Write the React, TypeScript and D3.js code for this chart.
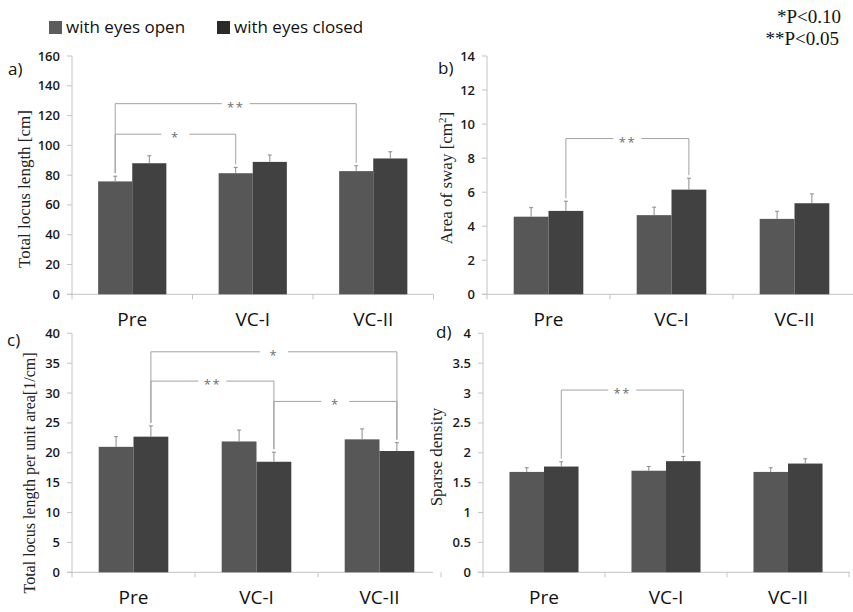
import * as d3 from "d3"

const categories = ["Pre", "VC-I", "VC-II"]
const series = ["with eyes open", "with eyes closed"]

// a) total locus length [cm]
const lengthOpen = [75.8, 81.3, 82.7]
const lengthClosed = [88, 88.9, 91.2]
const lengthOpenErr = [3.5, 3.9, 3.6]
const lengthClosedErr = [5, 4.6, 4.5]

// b) area of sway [cm2]
const swayOpen = [4.56, 4.65, 4.43]
const swayClosed = [4.9, 6.15, 5.35]
const swayOpenErr = [0.53, 0.47, 0.45]
const swayClosedErr = [0.57, 0.67, 0.55]

// c) total locus length per unit area [1/cm]
const perAreaOpen = [21, 21.9, 22.25]
const perAreaClosed = [22.7, 18.5, 20.3]
const perAreaOpenErr = [1.7, 1.9, 1.75]
const perAreaClosedErr = [1.8, 1.6, 1.4]

// d) sparse density
const densityOpen = [1.68, 1.7, 1.68]
const densityClosed = [1.77, 1.86, 1.82]
const densityOpenErr = [0.07, 0.07, 0.07]
const densityClosedErr = [0.08, 0.08, 0.08]

const lengthTicks = d3.range(0, 161, 20)
const swayTicks = d3.range(0, 15, 2)
const perAreaTicks = d3.range(0, 41, 5)
const densityTicks = d3.range(0, 4.01, 0.5)

// significance brackets: [category, series] -> [category, series]
const lengthSig = [
  { from: [0, 0], to: [2, 0], level: 128, label: "**" },
  { from: [0, 0], to: [1, 0], level: 107.5, label: "*" },
]
const swaySig = [{ from: [0, 1], to: [1, 1], level: 9.15, label: "**" }]
const perAreaSig = [
  { from: [0, 1], to: [2, 1], level: 36.9, label: "*" },
  { from: [0, 1], to: [1, 1], level: 32, label: "**" },
  { from: [1, 1], to: [2, 1], level: 28.6, label: "*" },
]
const densitySig = [{ from: [0, 1], to: [1, 1], level: 3.05, label: "**" }]

const W = 853
const H = 612
const SANS = "'Open Sans', 'Noto Sans', sans-serif"
const SERIF = "'Liberation Serif', 'Times New Roman', serif"
const colors = ["#575757", "#414141"]
const legendColors = ["#5c5c5c", "#2a2a2a"]
const axisColor = "#c4c4c4"

type Sig = { from: number[]; to: number[]; level: number; label: string }

interface PanelProps {
  x0: number
  x1: number
  axisEnd: number
  y0: number
  y1: number
  max: number
  ticks: number[]
  values: number[][]
  errors: number[][]
  sig: Sig[]
  tag: string
  tagX: number
  tagY: number
  title: React.ReactNode
  titleX: number
  titleY: number
  titleSize: number
}

function Panel(p: PanelProps) {
  const x = d3.scaleBand<string>()
    .domain(categories)
    .range([p.x0, p.x1])
    .paddingInner(0.434)
    .paddingOuter(0.217)
  const inner = d3.scaleBand<string>()
    .domain(series)
    .range([0, x.bandwidth()])
  const y = d3.scaleLinear().domain([0, p.max]).range([p.y0, p.y1])
  const step = x.step()

  const barCenter = (c: number, s: number) =>
    x(categories[c])! + inner(series[s])! + inner.bandwidth() / 2
  const errTop = (c: number, s: number) => y(p.values[s][c] + p.errors[s][c])

  return (
    <g>
      {/* y axis */}
      <line x1={p.x0} x2={p.x0} y1={p.y0} y2={p.y1} stroke={axisColor} />
      {p.ticks.map(t => (
        <g key={t}>
          <line x1={p.x0 - 5} x2={p.x0} y1={y(t)} y2={y(t)} stroke={axisColor} />
          <text x={p.x0 - 12} y={y(t)} dy="0.35em" textAnchor="end"
            fontFamily={SANS} fontSize={13} fontWeight={600} fill="#1a1a1a">{String(t)}</text>
        </g>
      ))}
      {/* x axis */}
      <line x1={p.x0 - 5} x2={p.axisEnd} y1={p.y0} y2={p.y0} stroke={axisColor} />
      {d3.range(0, categories.length + 1).map(i => (
        <line key={i} x1={p.x0 + i * step} x2={p.x0 + i * step} y1={p.y0} y2={p.y0 + 5}
          stroke={axisColor} />
      ))}
      {categories.map(c => (
        <text key={c} x={x(c)! + x.bandwidth() / 2} y={p.y0 + 32} textAnchor="middle"
          fontFamily={SANS} fontSize={19} fill="#111">{c}</text>
      ))}
      {/* bars */}
      {series.map((s, si) =>
        categories.map((c, ci) => {
          const bx = x(c)! + inner(s)!
          const v = p.values[si][ci]
          const cx = barCenter(ci, si)
          return (
            <g key={s + c}>
              <rect x={bx} y={y(v)} width={inner.bandwidth()} height={p.y0 - y(v)}
                fill={colors[si]} />
              <line x1={cx} x2={cx} y1={y(v)} y2={errTop(ci, si)} stroke="#8a8a8a" />
              <line x1={cx - 2} x2={cx + 2} y1={errTop(ci, si)} y2={errTop(ci, si)}
                stroke="#8a8a8a" />
            </g>
          )
        })
      )}
      {/* significance brackets */}
      {p.sig.map((b, i) => {
        const xa = barCenter(b.from[0], b.from[1])
        const xb = barCenter(b.to[0], b.to[1])
        const ly = y(b.level)
        const mid = (xa + xb) / 2
        const gap = 14
        return (
          <g key={i} stroke="#a2a2a2" fill="none">
            <line x1={xa} x2={xa} y1={ly} y2={errTop(b.from[0], b.from[1]) - 3} />
            <line x1={xb} x2={xb} y1={ly} y2={errTop(b.to[0], b.to[1]) - 3} />
            <line x1={xa} x2={mid - gap} y1={ly} y2={ly} />
            <line x1={mid + gap} x2={xb} y1={ly} y2={ly} />
            <text x={mid} y={ly + 8} textAnchor="middle" stroke="none" fill="#707070"
              fontFamily={SANS} fontSize={13} letterSpacing={1.5}>{b.label}</text>
          </g>
        )
      })}
      <text x={p.tagX} y={p.tagY} fontFamily={SANS} fontSize={17} fill="#111">{p.tag}</text>
      <text transform={`translate(${p.titleX},${p.titleY}) rotate(-90)`} textAnchor="middle"
        fontFamily={SERIF} fontSize={p.titleSize} fill="#222">{p.title}</text>
    </g>
  )
}

export default function App() {
  return (
    <svg width={W} height={H} style={{ position: "absolute", left: 0, top: 0, background: "#fff" }}>
      {/* legend */}
      {series.map((s, i) => (
        <g key={s} transform={`translate(${i === 0 ? 49 : 217},21)`}>
          <rect width={13} height={13} fill={legendColors[i]} />
          <text x={17} y={12} fontFamily={SANS} fontSize={17} fill="#111">{s}</text>
        </g>
      ))}
      <text x={841} y={23} textAnchor="end" fontFamily={SERIF} fontSize={19} fill="#111">*P&lt;0.10</text>
      <text x={839} y={45} textAnchor="end" fontFamily={SERIF} fontSize={19} fill="#111">**P&lt;0.05</text>

      <Panel x0={72} x1={433.5} axisEnd={433} y0={294.3} y1={56} max={160}
        ticks={lengthTicks} values={[lengthOpen, lengthClosed]}
        errors={[lengthOpenErr, lengthClosedErr]} sig={lengthSig}
        tag="a)" tagX={8} tagY={75}
        title="Total locus length [cm]" titleX={30} titleY={189} titleSize={17} />
      <Panel x0={487} x1={856} axisEnd={853} y0={294.3} y1={56} max={14}
        ticks={swayTicks} values={[swayOpen, swayClosed]}
        errors={[swayOpenErr, swayClosedErr]} sig={swaySig}
        tag="b)" tagX={438} tagY={74}
        title={<>Area of sway [cm<tspan fontSize={11} dy={-6}>2</tspan><tspan dy={6}>]</tspan></>}
        titleX={452} titleY={178} titleSize={17} />
      <Panel x0={72} x1={441} axisEnd={433} y0={572.3} y1={333.3} max={40}
        ticks={perAreaTicks} values={[perAreaOpen, perAreaClosed]}
        errors={[perAreaOpenErr, perAreaClosedErr]} sig={perAreaSig}
        tag="c)" tagX={7} tagY={346}
        title="Total locus length per unit area[1/cm]" titleX={35} titleY={473} titleSize={16} />
      <Panel x0={483} x1={849} axisEnd={850} y0={572.3} y1={333.3} max={4}
        ticks={densityTicks} values={[densityOpen, densityClosed]}
        errors={[densityOpenErr, densityClosedErr]} sig={densitySig}
        tag="d)" tagX={436} tagY={338}
        title="Sparse density" titleX={442} titleY={457} titleSize={17} />
    </svg>
  )
}
